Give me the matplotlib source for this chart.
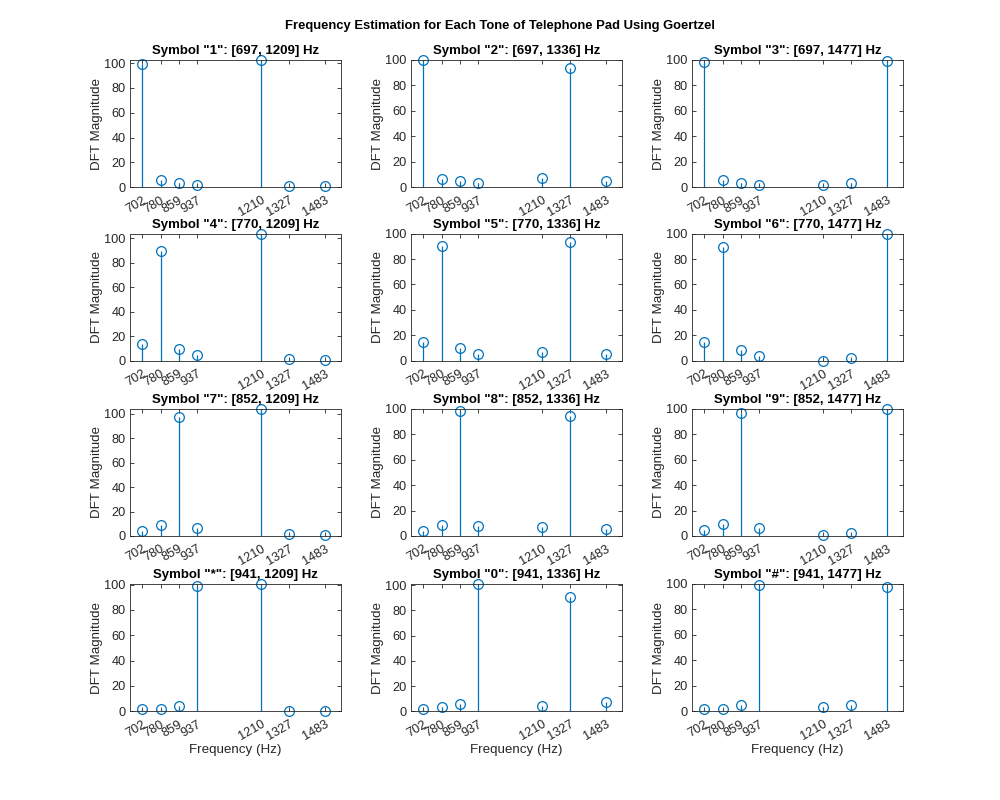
import matplotlib
matplotlib.use("Agg")
import matplotlib.pyplot as plt
import numpy as np

plt.rcParams['font.family'] = ['Liberation Sans', 'DejaVu Sans']

# Goertzel bin frequencies (Hz) and their labels
freqs = [702.4, 780.5, 858.5, 936.6, 1209.8, 1326.8, 1482.9]
freq_labels = ['702', '780', '859', '937', '1210', '1327', '1483']

symbols = ['1', '2', '3', '4', '5', '6', '7', '8', '9', '*', '0', '#']
low_freqs = [697, 697, 697, 770, 770, 770, 852, 852, 852, 941, 941, 941]
high_freqs = [1209, 1336, 1477, 1209, 1336, 1477, 1209, 1336, 1477, 1209, 1336, 1477]

mag_1 = [99, 6, 3, 2, 102.5, 1, 1]
mag_2 = [100, 6.5, 4.5, 3.5, 7.5, 94, 5]
mag_3 = [98.5, 6, 3, 1.5, 1.5, 3.5, 99.5]
mag_4 = [14, 90, 10, 5, 104, 1.5, 0.5]
mag_5 = [14.5, 90.5, 10, 5.5, 7, 93.5, 5.5]
mag_6 = [15, 89.5, 8.5, 4, 0, 2.5, 100]
mag_7 = [4, 9, 97, 6.5, 104, 1.5, 0.5]
mag_8 = [4, 8.5, 98, 7.5, 7, 94, 5.5]
mag_9 = [4.5, 9.5, 96.5, 6.5, 1, 2.5, 100]
mag_star = [1.5, 2, 4.5, 99, 100.5, 0.5, 0.5]
mag_0 = [2, 3, 6, 101, 4.5, 91, 7]
mag_hash = [1.5, 2, 4.5, 99.5, 3, 4.5, 98]
magnitudes = [mag_1, mag_2, mag_3, mag_4, mag_5, mag_6,
              mag_7, mag_8, mag_9, mag_star, mag_0, mag_hash]

fig = plt.figure(figsize=(10, 8), dpi=100)
fig.suptitle('Frequency Estimation for Each Tone of Telephone Pad Using Goertzel',
             fontsize=9.4, fontweight='bold', y=0.9745)

col_left = [0.130, 0.411, 0.692]
row_bottom = [0.766, 0.549, 0.330, 0.111]
w, h = 0.211, 0.159
blue = '#0072BD'
gray = '#262626'

for i in range(12):
    r, c = divmod(i, 3)
    ax = fig.add_axes([col_left[c], row_bottom[r], w, h])
    vals = magnitudes[i]
    ml, sl, bl = ax.stem(freqs, vals, basefmt=' ')
    ml.set_marker('o')
    ml.set_markerfacecolor('none')
    ml.set_markeredgecolor(blue)
    ml.set_markersize(7)
    ml.set_markeredgewidth(0.9)
    ml.set_clip_on(False)
    sl.set_color(blue)
    sl.set_linewidth(0.9)
    ax.set_xlim(650, 1550)
    ax.set_ylim(0, max(100, max(vals)))
    ax.set_xticks(freqs)
    ax.set_xticklabels(freq_labels, rotation=30, ha='right', rotation_mode='anchor')
    ax.set_yticks([0, 20, 40, 60, 80, 100])
    ax.tick_params(direction='in', length=3, width=0.6, top=True, right=True,
                   labelsize=9.2, colors=gray)
    ax.tick_params(axis='x', pad=5)
    ax.tick_params(axis='y', pad=3)
    for sp in ax.spines.values():
        sp.set_color(gray)
        sp.set_linewidth(0.6)
    ax.set_ylabel('DFT Magnitude', fontsize=9.6, color=gray, labelpad=1)
    ax.set_title(f'Symbol "{symbols[i]}": [{low_freqs[i]}, {high_freqs[i]}] Hz',
                 fontsize=9.5, fontweight='bold', pad=4)
    if r == 3:
        ax.set_xlabel('Frequency (Hz)', fontsize=9.6, color=gray, labelpad=1)

fig.savefig('out.png', dpi=100)
